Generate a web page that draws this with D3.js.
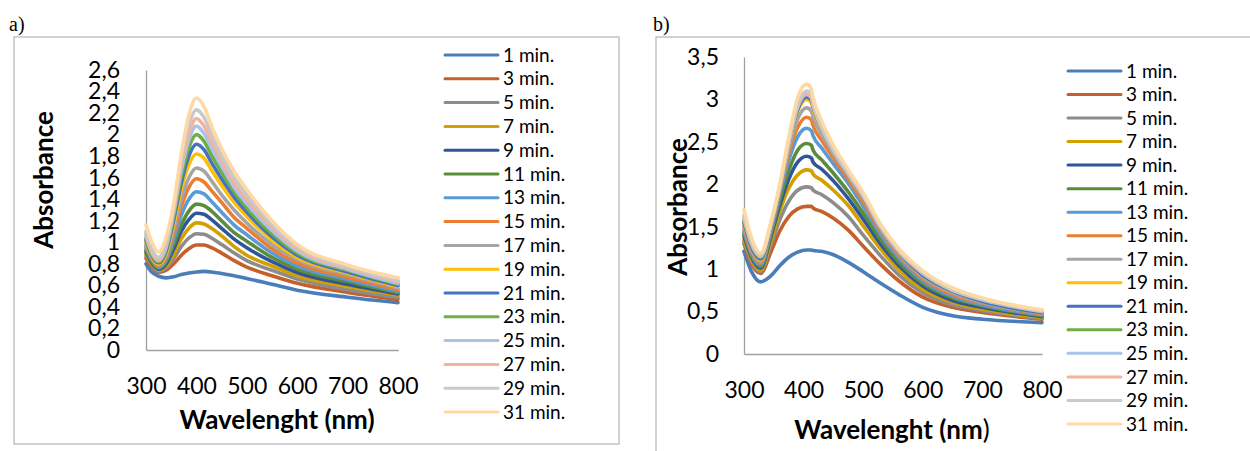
<!DOCTYPE html>
<html>
<head>
<meta charset="utf-8">
<script src="https://cdn.jsdelivr.net/npm/d3@7"></script>
<style>
  body { margin: 0; background: #fff; }
  svg { display: block; }
  text { font-family: Lato, "Open Sans", sans-serif; fill: #000; }
</style>
</head>
<body>
<svg id="chart"></svg>
<script>
// Legend labels (same for both panels)
const minutes = ["1 min.", "3 min.", "5 min.", "7 min.", "9 min.", "11 min.", "13 min.", "15 min.",
                 "17 min.", "19 min.", "21 min.", "23 min.", "25 min.", "27 min.", "29 min.", "31 min."];

// Excel style series colours
const palette = ["#4a7ebb", "#c5602a", "#8c8c8c", "#d4a000", "#2f559a", "#5b8c3b", "#5b9bd5", "#ed7d31",
                 "#a5a5a5", "#ffc000", "#4472c4", "#70ad47", "#a9c4e8", "#f4b39c", "#c9c9c9", "#ffd9a3"];

// a) wavelengths (nm) and absorbance per series
const wavelengthsA = [300, 310, 325, 340, 355, 370, 385, 400, 415, 430, 450, 475, 500, 550, 600, 700, 800];
const absorbanceA = [
  [0.80, 0.73, 0.685, 0.67, 0.68, 0.70, 0.715, 0.725, 0.73, 0.725, 0.71, 0.69, 0.665, 0.61, 0.555, 0.49, 0.44],
  [0.85, 0.78, 0.72, 0.74, 0.80, 0.88, 0.94, 0.975, 0.975, 0.95, 0.90, 0.83, 0.77, 0.69, 0.62, 0.535, 0.47],
  [0.87, 0.80, 0.73, 0.76, 0.85, 0.96, 1.04, 1.08, 1.075, 1.04, 0.98, 0.90, 0.83, 0.74, 0.66, 0.56, 0.49],
  [0.89, 0.81, 0.74, 0.78, 0.89, 1.03, 1.13, 1.18, 1.17, 1.13, 1.06, 0.96, 0.88, 0.78, 0.69, 0.59, 0.51],
  [0.91, 0.82, 0.75, 0.80, 0.94, 1.10, 1.21, 1.27, 1.26, 1.21, 1.13, 1.03, 0.95, 0.82, 0.72, 0.61, 0.52],
  [0.93, 0.83, 0.76, 0.82, 0.98, 1.16, 1.29, 1.355, 1.34, 1.29, 1.20, 1.09, 1.01, 0.86, 0.75, 0.635, 0.53],
  [0.95, 0.85, 0.77, 0.84, 1.03, 1.25, 1.40, 1.47, 1.45, 1.38, 1.28, 1.16, 1.07, 0.90, 0.78, 0.655, 0.545],
  [0.97, 0.86, 0.78, 0.86, 1.08, 1.33, 1.51, 1.59, 1.56, 1.48, 1.37, 1.23, 1.13, 0.94, 0.81, 0.675, 0.56],
  [0.98, 0.87, 0.79, 0.88, 1.12, 1.40, 1.60, 1.69, 1.66, 1.57, 1.44, 1.30, 1.18, 0.98, 0.84, 0.70, 0.575],
  [1.00, 0.88, 0.80, 0.90, 1.17, 1.49, 1.72, 1.82, 1.78, 1.67, 1.53, 1.37, 1.24, 1.02, 0.86, 0.715, 0.59],
  [1.02, 0.89, 0.81, 0.92, 1.21, 1.55, 1.80, 1.91, 1.86, 1.74, 1.59, 1.42, 1.28, 1.05, 0.88, 0.725, 0.60],
  [1.04, 0.90, 0.82, 0.94, 1.25, 1.61, 1.88, 2.00, 1.94, 1.81, 1.65, 1.47, 1.32, 1.08, 0.90, 0.74, 0.61],
  [1.06, 0.92, 0.83, 0.96, 1.28, 1.67, 1.95, 2.08, 2.01, 1.88, 1.71, 1.51, 1.36, 1.11, 0.92, 0.75, 0.62],
  [1.08, 0.93, 0.84, 0.98, 1.31, 1.72, 2.01, 2.15, 2.08, 1.94, 1.76, 1.55, 1.40, 1.14, 0.94, 0.765, 0.635],
  [1.10, 0.95, 0.86, 1.00, 1.34, 1.78, 2.09, 2.23, 2.16, 2.00, 1.81, 1.60, 1.44, 1.17, 0.96, 0.775, 0.645],
  [1.16, 1.02, 0.91, 1.05, 1.36, 1.82, 2.18, 2.34, 2.26, 2.08, 1.87, 1.66, 1.49, 1.20, 0.98, 0.79, 0.67]
];
const yTicksA = [0, 0.2, 0.4, 0.6, 0.8, 1, 1.2, 1.4, 1.6, 1.8, 2, 2.2, 2.4, 2.6];

// b) wavelengths (nm) and absorbance per series
const wavelengthsB = [300, 312, 328, 345, 360, 375, 390, 405, 413, 416, 430, 450, 475, 500, 530, 560, 600, 650, 700, 800];
const absorbanceB = [
  [1.21, 0.98, 0.85, 0.92, 1.04, 1.14, 1.20, 1.225, 1.225, 1.22, 1.21, 1.17, 1.08, 0.97, 0.83, 0.70, 0.55, 0.45, 0.41, 0.37],
  [1.30, 1.07, 0.95, 1.20, 1.45, 1.62, 1.71, 1.74, 1.74, 1.72, 1.68, 1.60, 1.46, 1.27, 1.05, 0.86, 0.67, 0.55, 0.49, 0.41],
  [1.33, 1.10, 0.97, 1.28, 1.58, 1.80, 1.93, 1.97, 1.96, 1.93, 1.88, 1.78, 1.62, 1.40, 1.15, 0.93, 0.72, 0.58, 0.51, 0.42],
  [1.36, 1.12, 0.99, 1.33, 1.68, 1.95, 2.11, 2.17, 2.16, 2.12, 2.05, 1.93, 1.75, 1.51, 1.23, 0.99, 0.76, 0.61, 0.53, 0.43],
  [1.39, 1.15, 1.01, 1.38, 1.75, 2.06, 2.26, 2.33, 2.31, 2.26, 2.18, 2.04, 1.83, 1.59, 1.29, 1.04, 0.80, 0.63, 0.55, 0.44],
  [1.42, 1.17, 1.03, 1.41, 1.81, 2.16, 2.40, 2.48, 2.46, 2.40, 2.29, 2.13, 1.91, 1.66, 1.34, 1.08, 0.83, 0.66, 0.57, 0.45],
  [1.45, 1.19, 1.05, 1.45, 1.88, 2.28, 2.56, 2.66, 2.63, 2.57, 2.43, 2.24, 2.01, 1.74, 1.40, 1.13, 0.86, 0.68, 0.58, 0.46],
  [1.48, 1.22, 1.07, 1.48, 1.92, 2.36, 2.67, 2.79, 2.76, 2.69, 2.52, 2.31, 2.06, 1.79, 1.44, 1.16, 0.89, 0.70, 0.60, 0.47],
  [1.51, 1.24, 1.09, 1.49, 1.95, 2.41, 2.77, 2.90, 2.86, 2.79, 2.59, 2.36, 2.10, 1.83, 1.46, 1.18, 0.91, 0.72, 0.61, 0.48],
  [1.54, 1.26, 1.11, 1.50, 1.96, 2.46, 2.86, 3.00, 2.96, 2.88, 2.65, 2.40, 2.13, 1.85, 1.48, 1.20, 0.93, 0.74, 0.63, 0.49],
  [1.55, 1.27, 1.12, 1.50, 1.96, 2.47, 2.88, 3.03, 2.99, 2.91, 2.66, 2.40, 2.13, 1.85, 1.48, 1.20, 0.93, 0.74, 0.62, 0.49],
  [1.58, 1.30, 1.14, 1.52, 1.97, 2.50, 2.93, 3.09, 3.05, 2.96, 2.69, 2.42, 2.14, 1.87, 1.50, 1.22, 0.95, 0.75, 0.64, 0.50],
  [1.60, 1.31, 1.15, 1.52, 1.97, 2.48, 2.91, 3.06, 3.02, 2.93, 2.67, 2.40, 2.13, 1.86, 1.49, 1.21, 0.95, 0.75, 0.64, 0.50],
  [1.62, 1.32, 1.16, 1.53, 1.97, 2.49, 2.92, 3.07, 3.03, 2.94, 2.67, 2.40, 2.13, 1.86, 1.49, 1.21, 0.96, 0.76, 0.65, 0.51],
  [1.64, 1.34, 1.17, 1.53, 1.97, 2.50, 2.94, 3.10, 3.06, 2.97, 2.69, 2.41, 2.13, 1.87, 1.49, 1.22, 0.96, 0.76, 0.65, 0.51],
  [1.70, 1.38, 1.19, 1.55, 2.00, 2.55, 3.02, 3.18, 3.12, 3.02, 2.75, 2.46, 2.17, 1.90, 1.52, 1.24, 0.98, 0.78, 0.66, 0.52]
];
const yTicksB = [0, 0.5, 1, 1.5, 2, 2.5, 3, 3.5];

const xTicks = [300, 400, 500, 600, 700, 800];

// comma as decimal separator
const fmt = d3.formatLocale({ decimal: ",", thousands: ".", grouping: [3], currency: ["", ""] }).format(".1~f");

class SpectraChart {
    constructor(config_, wavelengths_, series_) {
        this.config = config_;
        this.wavelengths = wavelengths_;
        this.series = series_;
        this.initVis();
    }

    initVis() {
        const vis = this;
        const c = vis.config;

        vis.g = d3.select('#chart').append('g');

        // panel frame
        vis.g.append('rect')
            .attr('x', c.frame[0]).attr('y', c.frame[1])
            .attr('width', c.frame[2]).attr('height', c.frame[3])
            .attr('fill', 'none').attr('stroke', '#a6a6a6').attr('stroke-width', 1);

        vis.g.append('text')
            .attr('x', c.tag[0]).attr('y', c.tag[1])
            .style('font-family', '"Liberation Serif", serif')
            .style('font-size', '20px')
            .text(c.tagText);

        vis.x = d3.scaleLinear().domain([300, 800]).range([c.x0, c.x1]);
        vis.y = d3.scaleLinear().domain([0, c.yMax]).range([c.y0, c.yTop]);

        vis.renderVis();
    }

    renderVis() {
        const vis = this;
        const c = vis.config;

        const yAxis = d3.axisLeft(vis.y).tickValues(c.yTicks).tickFormat(fmt)
            .tickSize(0).tickPadding(c.yPad);
        const xAxis = d3.axisBottom(vis.x).tickValues(xTicks).tickFormat(d3.format('d'))
            .tickSize(0).tickPadding(c.xPad);

        const ya = vis.g.append('g').attr('transform', `translate(${c.x0},0)`).call(yAxis);
        const xa = vis.g.append('g').attr('transform', `translate(0,${c.y0})`).call(xAxis);
        [ya, xa].forEach(a => {
            a.select('.domain').attr('stroke', '#a0a0a0').attr('stroke-width', 1.3);
            a.selectAll('text').style('font-family', 'Lato, sans-serif').style('font-size', '23px').attr('fill', '#000');
        });

        const line = d3.line()
            .x((d, i) => vis.x(vis.wavelengths[i]))
            .y(d => vis.y(d))
            .curve(d3.curveMonotoneX);

        vis.g.append('g').selectAll('.spectrum')
            .data(vis.series)
            .join('path')
            .attr('class', 'spectrum')
            .attr('d', d => line(d))
            .attr('fill', 'none')
            .attr('stroke', (d, i) => palette[i])
            .attr('stroke-width', 3.6)
            .attr('stroke-linejoin', 'round')
            .attr('stroke-linecap', 'round');

        // axis titles
        vis.g.append('text')
            .attr('transform', `translate(${c.yTitle[0]},${c.yTitle[1]}) rotate(-90)`)
            .attr('text-anchor', 'middle')
            .attr('dy', '0.35em')
            .style('font-weight', 'bold').style('font-size', '26px')
            .text('Absorbance');

        const xt = vis.g.append('text')
            .attr('x', c.xTitle[0]).attr('y', c.xTitle[1])
            .attr('text-anchor', 'middle')
            .attr('dy', '0.35em')
            .style('font-size', '26px');
        xt.append('tspan').style('font-weight', 'bold').text('Wavelenght (nm');
        xt.append('tspan').style('font-weight', c.lastParenBold ? 'bold' : 'normal').text(')');

        // legend
        const leg = vis.g.append('g').selectAll('.legend-item')
            .data(minutes)
            .join('g')
            .attr('class', 'legend-item')
            .attr('transform', (d, i) => `translate(0,${c.legY + i * c.legStep})`);
        leg.append('line')
            .attr('x1', c.legX).attr('x2', c.legX + 53)
            .attr('stroke', (d, i) => palette[i])
            .attr('stroke-width', 3).attr('stroke-linecap', 'round');
        leg.append('text')
            .attr('x', c.legX + 58).attr('dy', '0.35em')
            .style('font-size', '19px')
            .text(d => d);
    }
}

d3.select('#chart').attr('width', 1250).attr('height', 451);

new SpectraChart({
    frame: [14, 37, 605, 407], tag: [9, 31], tagText: 'a)',
    x0: 146, x1: 398, y0: 350, yTop: 70, yMax: 2.6, yTicks: yTicksA,
    yPad: 26, xPad: 28,
    yTitle: [44, 180], xTitle: [277, 420], lastParenBold: true,
    legX: 445, legY: 55, legStep: 23.8
}, wavelengthsA, absorbanceA);

new SpectraChart({
    frame: [656, 37, 700, 500], tag: [653, 31], tagText: 'b)',
    x0: 744, x1: 1042, y0: 354, yTop: 57, yMax: 3.5, yTicks: yTicksB,
    yPad: 25, xPad: 28,
    yTitle: [678, 207], xTitle: [892, 430], lastParenBold: false,
    legX: 1068, legY: 71, legStep: 23.53
}, wavelengthsB, absorbanceB);
</script>
</body>
</html>
